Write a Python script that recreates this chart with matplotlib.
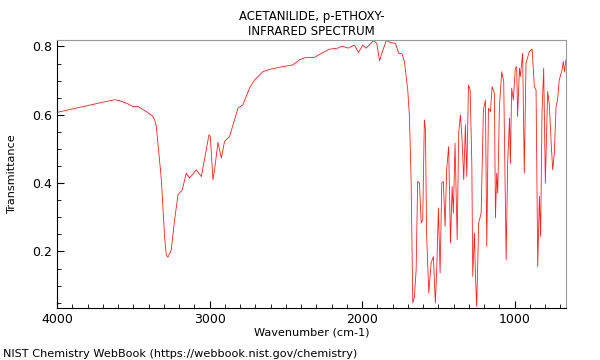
import numpy as np
import matplotlib
matplotlib.use("Agg")
import matplotlib.pyplot as plt
from matplotlib.ticker import MultipleLocator

# IR spectrum of p-ethoxyacetanilide
wavenumber = [4000, 3677, 3622, 3589, 3535, 3502, 3469, 3414, 3375, 3360, 3349, 3316,
              3295, 3284, 3273, 3251, 3229,
              3207, 3179, 3153, 3131, 3087, 3054, 3026, 3004, 2995, 2978, 2967, 2945,
              2923, 2902, 2869, 2814, 2782, 2738, 2705, 2651, 2607, 2520, 2454, 2410,
              2367, 2312, 2258, 2214, 2160, 2131, 2094, 2050, 2024, 1996, 1973, 1925,
              1904, 1886, 1871, 1842, 1810, 1782, 1760, 1738, 1723, 1701, 1690, 1679,
              1668, 1657, 1646, 1636, 1624, 1613, 1603, 1592, 1585, 1577, 1563, 1548,
              1533, 1520, 1511, 1500, 1489, 1478, 1468, 1456, 1446, 1433, 1421, 1410,
              1402, 1391, 1377, 1367, 1356, 1345, 1334, 1323, 1314, 1303, 1292, 1281,
              1275, 1264, 1257, 1249, 1236, 1220, 1205, 1192, 1183, 1172, 1159, 1148,
              1133, 1126, 1118, 1111, 1100, 1085, 1072, 1056, 1046, 1034, 1028, 1020,
              1009, 996, 987, 981, 969, 963, 948, 937, 926, 904, 886, 871,
              860, 849, 838, 830, 821, 810, 799, 784, 773, 762, 751, 740,
              729, 719, 708, 690, 681, 673, 665]
transmittance = [0.607, 0.639, 0.644, 0.641, 0.632, 0.624, 0.624, 0.609, 0.597, 0.585, 0.566, 0.410,
                 0.244, 0.190, 0.183, 0.205, 0.293,
                 0.366, 0.380, 0.429, 0.415, 0.439, 0.419, 0.488, 0.541, 0.536, 0.410, 0.439, 0.519,
                 0.473, 0.522, 0.536, 0.619, 0.629, 0.678, 0.702, 0.726, 0.733, 0.741, 0.746, 0.761,
                 0.768, 0.768, 0.782, 0.792, 0.795, 0.801, 0.795, 0.804, 0.782, 0.804, 0.795, 0.817,
                 0.809, 0.758, 0.780, 0.817, 0.811, 0.809, 0.780, 0.778, 0.756, 0.673, 0.595, 0.410,
                 0.049, 0.068, 0.146, 0.405, 0.400, 0.283, 0.293, 0.585, 0.556, 0.244, 0.078, 0.166,
                 0.185, 0.049, 0.146, 0.327, 0.137, 0.400, 0.405, 0.273, 0.439, 0.507, 0.225, 0.390,
                 0.312, 0.517, 0.234, 0.546, 0.600, 0.527, 0.410, 0.571, 0.419, 0.687, 0.673, 0.458,
                 0.127, 0.254, 0.127, 0.039, 0.283, 0.312, 0.614, 0.643, 0.215, 0.619, 0.609, 0.682,
                 0.663, 0.298, 0.429, 0.371, 0.624, 0.726, 0.697, 0.176, 0.458, 0.590, 0.458, 0.678,
                 0.643, 0.736, 0.741, 0.595, 0.736, 0.712, 0.780, 0.429, 0.751, 0.785, 0.792, 0.682,
                 0.673, 0.156, 0.361, 0.244, 0.605, 0.736, 0.400, 0.668, 0.629, 0.527, 0.439, 0.488,
                 0.624, 0.643, 0.702, 0.731, 0.756, 0.726, 0.760]

fig = plt.figure(figsize=(6, 3.6), dpi=100)
ax = fig.add_axes([0.095, 0.145, 0.848, 0.745])

ax.plot(wavenumber, transmittance, color="#ff2020", lw=0.6)

ax.set_xlim(4000, 665)
ax.set_ylim(0.035, 0.82)
ax.xaxis.set_major_locator(MultipleLocator(1000))
ax.xaxis.set_minor_locator(MultipleLocator(100))
ax.yaxis.set_major_locator(MultipleLocator(0.2))
ax.yaxis.set_minor_locator(MultipleLocator(0.05))
ax.tick_params(direction="in", which="major", length=5, labelsize=9)
ax.tick_params(direction="in", which="minor", length=3)

for side in ["top", "right"]:
    ax.spines[side].set_color("#999999")

ax.set_xlabel("Wavenumber (cm-1)", fontsize=8.1, labelpad=1)
ax.set_ylabel("Transmittance", fontsize=8.1, labelpad=11)
ax.set_title("ACETANILIDE, p-ETHOXY-\nINFRARED SPECTRUM", fontsize=8.5, pad=3)
fig.text(0.005, 0.008, "NIST Chemistry WebBook (https://webbook.nist.gov/chemistry)", fontsize=8.15)

fig.savefig("out.png", dpi=100)
